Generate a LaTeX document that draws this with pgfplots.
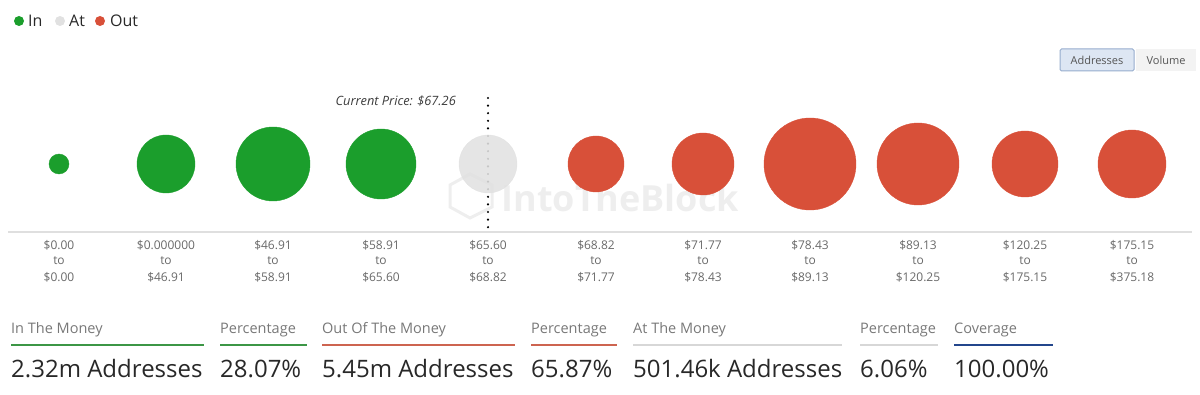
\documentclass[border=0pt]{standalone}
\usepackage{pgfplots}
\pgfplotsset{compat=1.18}
\usepackage{pgfplotstable}
\usepackage{fontspec}
\setmainfont{Open Sans}
\definecolor{ingreen}{RGB}{27,158,44}
\definecolor{outred}{RGB}{216,80,57}
\definecolor{atgrey}{RGB}{225,225,225}
\definecolor{ticktxt}{RGB}{105,105,105}
\definecolor{lbltxt}{RGB}{120,120,120}
\definecolor{valtxt}{RGB}{40,40,40}
\definecolor{cptxt}{RGB}{60,60,60}
\definecolor{lgreen}{RGB}{60,150,70}
\definecolor{lred}{RGB}{205,100,80}
\definecolor{lgrey}{RGB}{215,215,215}
\definecolor{lblue}{RGB}{35,70,140}
\definecolor{wm}{RGB}{238,238,238}
\definecolor{btnfill}{RGB}{221,230,243}
\definecolor{btndraw}{RGB}{150,172,205}
\definecolor{btntxt}{RGB}{85,85,85}
\definecolor{btn2}{RGB}{243,243,243}

\pgfplotstableread{
x y r
59 -164 10
166 -164 29
273 -164 37
381 -164 35
}\intab
\pgfplotstableread{
x y r
488 -164 29
}\attab
\pgfplotstableread{
x y r
596 -164 28
703 -164 31
810 -164 46
918 -164 41
1025 -164 33
1132 -164 34
}\outtab

\begin{document}
\begin{tikzpicture}
\begin{axis}[
  scale only axis, width=1200pt, height=394pt,
  xmin=0, xmax=1200, ymin=-394, ymax=0,
  hide axis, clip=false,
]
% watermark
\node[font=\fontsize{36}{40}\selectfont\bfseries, text=wm, anchor=base west] at (axis cs:498,-212) {IntoTheBlock};
\draw[wm, line width=3pt] (axis cs:450,-185) -- (axis cs:470,-174) -- (axis cs:492,-185) -- (axis cs:492,-207) -- (axis cs:470,-218) -- (axis cs:450,-207) -- cycle;

% axis base line
\draw[lgrey!80, line width=1.2pt] (axis cs:8,-232) -- (axis cs:1192,-232);
% current price line
\draw[black, line width=2.4pt, line cap=round, dash pattern=on 0pt off 7.6pt] (axis cs:488,-98) -- (axis cs:488,-230);
\node[font=\fontsize{12.8}{14}\selectfont\itshape, text=cptxt, anchor=base east, inner sep=0pt] at (axis cs:456,-106) {Current Price: \$67.26};

% bubbles
\addplot[scatter, only marks, mark=*,
  scatter/use mapped color={draw=ingreen, fill=ingreen},
  visualization depends on={\thisrow{r} \as \rad},
  scatter/@pre marker code/.append style={/tikz/mark size=\rad pt}] table[x=x,y=y] {\intab};
\addplot[scatter, only marks, mark=*,
  scatter/use mapped color={draw=atgrey, fill=atgrey, opacity=0.88},
  visualization depends on={\thisrow{r} \as \rad},
  scatter/@pre marker code/.append style={/tikz/mark size=\rad pt}] table[x=x,y=y] {\attab};
\addplot[scatter, only marks, mark=*,
  scatter/use mapped color={draw=outred, fill=outred},
  visualization depends on={\thisrow{r} \as \rad},
  scatter/@pre marker code/.append style={/tikz/mark size=\rad pt}] table[x=x,y=y] {\outtab};

% range labels
\tikzset{rl/.style={font=\fontsize{12}{14}\selectfont, text=ticktxt, anchor=base}}
\node[rl] at (axis cs:59,-250) {\$0.00};   \node[rl] at (axis cs:59,-265) {to};  \node[rl] at (axis cs:59,-281) {\$0.00};
\node[rl] at (axis cs:166,-250) {\$0.000000}; \node[rl] at (axis cs:166,-265) {to}; \node[rl] at (axis cs:166,-281) {\$46.91};
\node[rl] at (axis cs:273,-250) {\$46.91}; \node[rl] at (axis cs:273,-265) {to}; \node[rl] at (axis cs:273,-281) {\$58.91};
\node[rl] at (axis cs:381,-250) {\$58.91}; \node[rl] at (axis cs:381,-265) {to}; \node[rl] at (axis cs:381,-281) {\$65.60};
\node[rl] at (axis cs:488,-250) {\$65.60}; \node[rl] at (axis cs:488,-265) {to}; \node[rl] at (axis cs:488,-281) {\$68.82};
\node[rl] at (axis cs:596,-250) {\$68.82}; \node[rl] at (axis cs:596,-265) {to}; \node[rl] at (axis cs:596,-281) {\$71.77};
\node[rl] at (axis cs:703,-250) {\$71.77}; \node[rl] at (axis cs:703,-265) {to}; \node[rl] at (axis cs:703,-281) {\$78.43};
\node[rl] at (axis cs:810,-250) {\$78.43}; \node[rl] at (axis cs:810,-265) {to}; \node[rl] at (axis cs:810,-281) {\$89.13};
\node[rl] at (axis cs:918,-250) {\$89.13}; \node[rl] at (axis cs:918,-265) {to}; \node[rl] at (axis cs:918,-281) {\$120.25};
\node[rl] at (axis cs:1025,-250) {\$120.25}; \node[rl] at (axis cs:1025,-265) {to}; \node[rl] at (axis cs:1025,-281) {\$175.15};
\node[rl] at (axis cs:1132,-250) {\$175.15}; \node[rl] at (axis cs:1132,-265) {to}; \node[rl] at (axis cs:1132,-281) {\$375.18};

% legend
\fill[ingreen] (axis cs:19,-21) circle (5pt);
\node[font=\fontsize{16}{18}\selectfont, text=valtxt, anchor=base west, inner sep=0pt] at (axis cs:28,-27) {In};
\fill[atgrey] (axis cs:60,-21) circle (5pt);
\node[font=\fontsize{16}{18}\selectfont, text=valtxt, anchor=base west, inner sep=0pt] at (axis cs:69,-27) {At};
\fill[outred] (axis cs:100,-21) circle (5pt);
\node[font=\fontsize{16}{18}\selectfont, text=valtxt, anchor=base west, inner sep=0pt] at (axis cs:110,-27) {Out};

% buttons
\draw[fill=btnfill, draw=btndraw, line width=1pt, rounded corners=1.5pt] (axis cs:1060,-49) rectangle (axis cs:1134,-71);
\node[font=\fontsize{11}{13}\selectfont, text=btntxt] at (axis cs:1097,-60) {Addresses};
\fill[btn2] (axis cs:1136,-49) rectangle (axis cs:1196,-71);
\node[font=\fontsize{11}{13}\selectfont, text=btntxt] at (axis cs:1166,-60) {Volume};

% summary
\tikzset{sl/.style={font=\fontsize{14.5}{16}\selectfont, text=lbltxt, anchor=base west, inner sep=0pt},
         sv/.style={font=\fontsize{24}{26}\selectfont, text=valtxt, anchor=base west, inner sep=0pt}}
\node[sl] at (axis cs:11,-333) {In The Money};
\node[sl] at (axis cs:220,-333) {Percentage};
\node[sl] at (axis cs:322,-333) {Out Of The Money};
\node[sl] at (axis cs:531,-333) {Percentage};
\node[sl] at (axis cs:633,-333) {At The Money};
\node[sl] at (axis cs:860,-333) {Percentage};
\node[sl] at (axis cs:954,-333) {Coverage};
\draw[lgreen, line width=2pt] (axis cs:11,-345) -- (axis cs:204,-345);
\draw[lgreen, line width=2pt] (axis cs:220,-345) -- (axis cs:307,-345);
\draw[lred, line width=2pt] (axis cs:322,-345) -- (axis cs:515,-345);
\draw[lred, line width=2pt] (axis cs:531,-345) -- (axis cs:617,-345);
\draw[lgrey, line width=2pt] (axis cs:633,-345) -- (axis cs:842,-345);
\draw[lgrey, line width=2pt] (axis cs:860,-345) -- (axis cs:938,-345);
\draw[lblue, line width=2pt] (axis cs:954,-345) -- (axis cs:1053,-345);
\node[sv] at (axis cs:11,-377) {2.32m Addresses};
\node[sv] at (axis cs:220,-377) {28.07\%};
\node[sv] at (axis cs:322,-377) {5.45m Addresses};
\node[sv] at (axis cs:531,-377) {65.87\%};
\node[sv] at (axis cs:633,-377) {501.46k Addresses};
\node[sv] at (axis cs:860,-377) {6.06\%};
\node[sv] at (axis cs:954,-377) {100.00\%};
\end{axis}
\pgfresetboundingbox
\path (0,0) rectangle (1200pt,394pt);
\end{tikzpicture}
\end{document}
